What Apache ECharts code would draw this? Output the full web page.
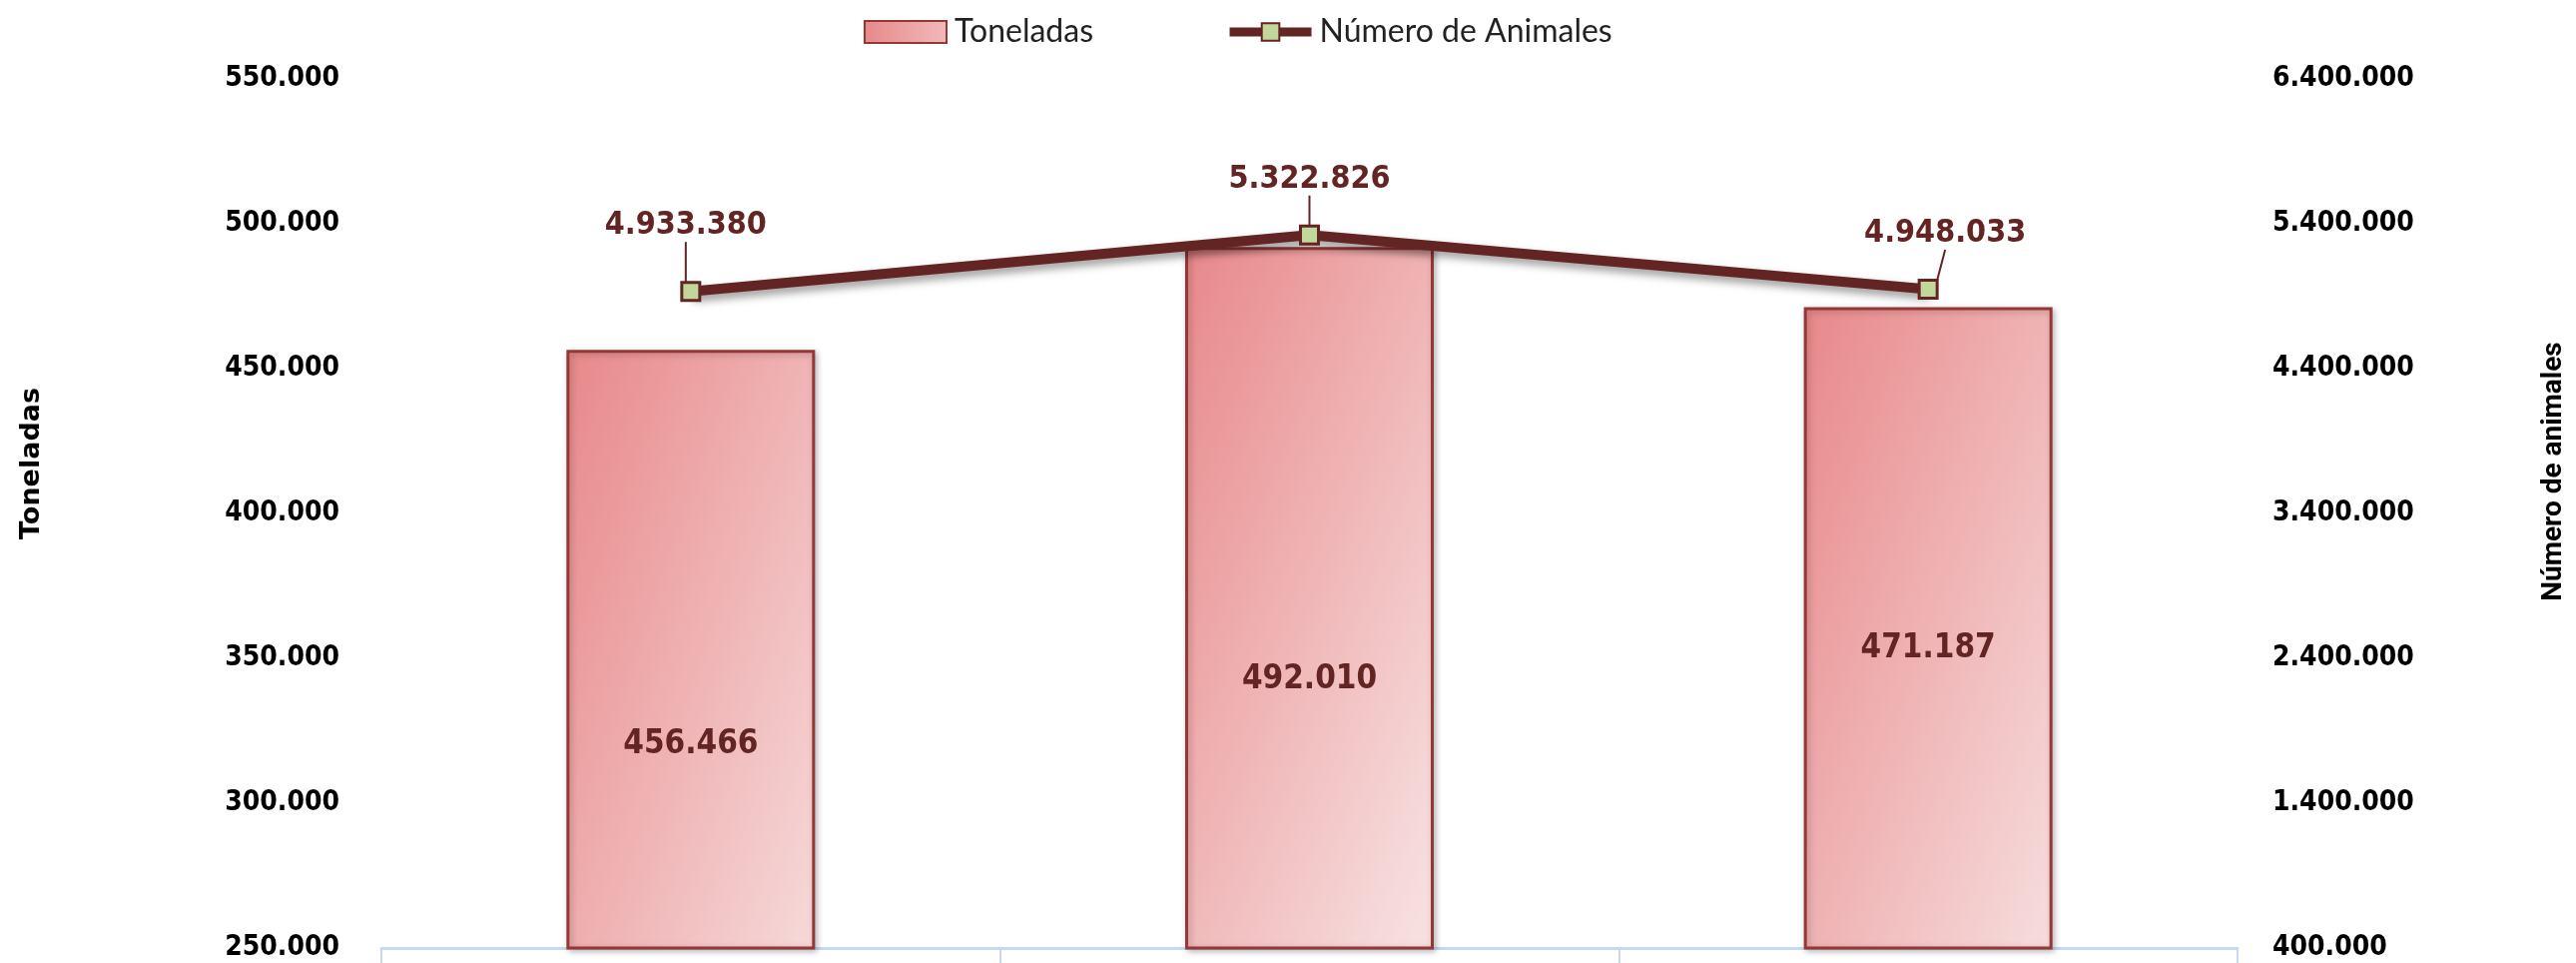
<!DOCTYPE html>
<html>
<head>
<meta charset="utf-8">
<script src="https://cdn.jsdelivr.net/npm/echarts@6/dist/echarts.min.js"></script>
<style>
  html, body { margin: 0; padding: 0; background: #fff; }
  #chart { width: 2580px; height: 964px; }
</style>
</head>
<body>
<div id="chart"></div>
<script>
  // datos (las etiquetas de categoria quedan fuera del recorte)
  var categories = ['2019', '2020', '2021'];
  var toneladas = [456466, 492010, 471187];
  var animales = [4933380, 5322826, 4948033];

  // escalas de los ejes
  var tonMin = 250000, tonMax = 550000, tonStep = 50000;
  var animMin = 400000, animMax = 6400000, animStep = 1000000;

  // desplazamiento manual de etiquetas (como en el original)
  var barLabelDy = [95, 82, 20];
  var lineLabelDx = [-5, 0, 17];
  var lineLabelDy = [-34, -24, -24];

  var dark = '#632523';
  var numFont = '"DejaVu Sans Condensed", "DejaVu Sans", sans-serif';
  var narrowFont = 'Lato, "Open Sans", sans-serif';

  function fmt(v) {
    return String(v).replace(/\B(?=(\d{3})+(?!\d))/g, '.');
  }

  var chart = echarts.init(document.getElementById('chart'));
  var option = {
    backgroundColor: '#fff',
    animation: false,
    legend: {
      top: 11,
      left: 860,
      itemWidth: 82,
      itemHeight: 22,
      itemGap: 132,
      textStyle: { fontFamily: narrowFont, fontSize: 32, color: '#222', padding: [0, 0, 0, 3] },
      data: [
        { name: 'Toneladas', icon: 'rect' },
        { name: 'Número de Animales', lineStyle: { width: 9 } }
      ]
    },
    grid: { left: 382, right: 339, top: 79, bottom: 15 },
    xAxis: {
      type: 'category',
      data: categories,
      axisLine: { lineStyle: { color: '#c6d9f1', width: 3 } },
      axisTick: { show: true, length: 18, lineStyle: { color: '#c6d9f1', width: 2 } },
      axisLabel: { show: false }
    },
    yAxis: [{
      type: 'value',
      min: tonMin, max: tonMax, interval: tonStep,
      name: 'Toneladas',
      nameLocation: 'middle',
      nameRotate: 90,
      nameGap: 337,
      nameTextStyle: { fontFamily: '"DejaVu Sans", sans-serif', fontWeight: 'bold', fontSize: 27, color: '#000', padding: [0, 0, 0, 100] },
      splitLine: { show: false },
      axisLine: { show: false },
      axisTick: { show: false },
      axisLabel: { margin: 42, fontFamily: numFont, fontWeight: 'bold', fontSize: 28, color: '#000', formatter: fmt }
    }, {
      type: 'value',
      min: animMin, max: animMax, interval: animStep,
      name: 'Número de animales',
      nameLocation: 'middle',
      nameRotate: 90,
      nameGap: 303,
      nameTextStyle: { fontFamily: 'Roboto, "Open Sans", sans-serif', fontWeight: 'bold', fontSize: 28, color: '#000', padding: [0, 0, 0, 84] },
      splitLine: { show: false },
      axisLine: { show: false },
      axisTick: { show: false },
      axisLabel: { margin: 35, fontFamily: numFont, fontWeight: 'bold', fontSize: 28, color: '#000', formatter: fmt }
    }],
    series: [{
      name: 'Toneladas',
      type: 'bar',
      barWidth: 249,
      data: toneladas.map(function (v, i) {
        return { value: v, label: { offset: [0, barLabelDy[i]] } };
      }),
      itemStyle: {
        color: {
          type: 'linear', x: 0, y: 0, x2: 1.75, y2: 0.25,
          colorStops: [{ offset: 0, color: '#e8888a' }, { offset: 1, color: '#f7dfdf' }]
        },
        borderColor: '#953735',
        borderWidth: 3,
        shadowColor: 'rgba(0,0,0,0.25)',
        shadowBlur: 6,
        shadowOffsetX: 2,
        shadowOffsetY: 2
      },
      label: {
        show: true,
        position: 'inside',
        fontFamily: numFont,
        fontWeight: 'bold',
        fontSize: 33,
        color: dark,
        formatter: function (p) { return fmt(p.value); }
      },
      z: 2
    }, {
      name: 'Número de Animales',
      type: 'line',
      yAxisIndex: 1,
      data: animales,
      symbol: 'rect',
      symbolSize: 18,
      lineStyle: {
        color: dark, width: 10,
        shadowColor: 'rgba(0,0,0,0.4)', shadowBlur: 8, shadowOffsetX: 2, shadowOffsetY: 5
      },
      itemStyle: { color: '#c3d69b', borderColor: dark, borderWidth: 3 },
      label: {
        show: true,
        position: 'top',
        distance: 5,
        fontFamily: numFont,
        fontWeight: 'bold',
        fontSize: 32,
        color: dark,
        formatter: function (p) { return fmt(p.value); }
      },
      labelLine: { show: true, lineStyle: { color: dark, width: 2 } },
      labelLayout: function (p) {
        return { dx: lineLabelDx[p.dataIndex], dy: lineLabelDy[p.dataIndex] };
      },
      z: 5
    }]
  };
  chart.setOption(option);
</script>
</body>
</html>
